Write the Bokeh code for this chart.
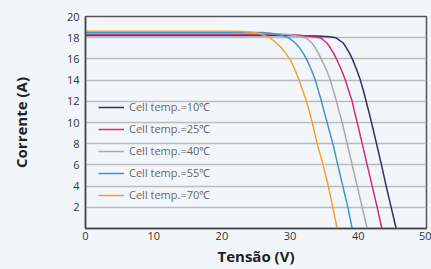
from bokeh.plotting import figure
from bokeh.models import Range1d, FixedTicker, Legend, LegendItem
from bokeh.embed import file_html
from bokeh.resources import INLINE

# Data (voltage V, current A)
v_10 = [0, 30, 34, 35.8, 36.7, 37.8, 38.3, 38.75, 39.12, 39.75, 40.3, 40.75, 41.15,
        41.55, 41.94, 42.67, 43.4, 44.09, 44.82, 45.55]
i_10 = [18.2, 18.2, 18.17, 18.1, 18.0, 17.5, 17.0, 16.5, 16.0, 15.0, 14.0, 13.0, 12.0,
        11.0, 10.0, 8.0, 6.0, 4.0, 2.0, 0]

v_25 = [0, 28, 30, 31.8, 33.3, 34.46, 35.4, 35.95, 36.4, 36.8, 37.5, 38.1, 38.6, 39.1,
        39.45, 39.84, 40.57, 41.3, 42.04, 42.77, 43.45]
i_25 = [18.3, 18.3, 18.28, 18.2, 18.1, 18.0, 17.5, 17.0, 16.5, 16.0, 15.0, 14.0, 13.0,
        12.0, 11.0, 10.0, 8.0, 6.0, 4.0, 2.0, 0]

v_40 = [0, 26, 28, 29.6, 31, 32.26, 33.2, 33.75, 34.18, 34.55, 35.3, 35.9, 36.35, 36.8,
        37.2, 37.64, 38.37, 39.1, 39.84, 40.57, 41.3]
i_40 = [18.4, 18.4, 18.38, 18.3, 18.15, 18.0, 17.5, 17.0, 16.5, 16.0, 15.0, 14.0, 13.0,
        12.0, 11.0, 10.0, 8.0, 6.0, 4.0, 2.0, 0]

v_55 = [0, 24, 26, 27.3, 28.5, 29.8, 30.75, 31.45, 31.95, 32.4, 33.1, 33.7, 34.15, 34.6,
        35.0, 35.43, 36.27, 37.0, 37.73, 38.47, 39.1]
i_55 = [18.5, 18.5, 18.48, 18.4, 18.25, 18.0, 17.5, 17.0, 16.5, 16.0, 15.0, 14.0, 13.0,
        12.0, 11.0, 10.0, 8.0, 6.0, 4.0, 2.0, 0]

v_70 = [0, 21, 23, 24.5, 25.5, 26.3, 27.0, 28.0, 28.8, 29.4, 29.96, 30.7, 31.3, 31.87,
        32.4, 32.84, 33.24, 33.97, 34.85, 35.6, 36.27, 36.9]
i_70 = [18.6, 18.6, 18.58, 18.52, 18.4, 18.2, 18.0, 17.5, 17.0, 16.5, 16.0, 15.0, 14.0,
        13.0, 12.0, 11.0, 10.0, 8.0, 6.0, 4.0, 2.0, 0]

labels = ["Cell temp.=10℃", "Cell temp.=25℃", "Cell temp.=40℃",
          "Cell temp.=55℃", "Cell temp.=70℃"]
colors = ["#2c2f6e", "#d42a7c", "#a9a9a9", "#3b97d1", "#f0a232"]
x_ticks = [0, 10, 20, 30, 40, 50]
y_ticks = [2, 4, 6, 8, 10, 12, 14, 16, 18, 20]

BG = "#f2f6fa"
FONT = "Open Sans"

p = figure(width=431, height=269, output_backend="svg", toolbar_location=None,
           x_range=Range1d(0, 50), y_range=Range1d(0, 20),
           min_border_left=85, min_border_right=5, min_border_top=16,
           min_border_bottom=41)
p.background_fill_color = BG
p.border_fill_color = BG
p.outline_line_color = "#555555"
p.outline_line_width = 1.5

series = [(v_10, i_10), (v_25, i_25), (v_40, i_40), (v_55, i_55), (v_70, i_70)]
renderers = []
for (vx, iy), c in zip(series, colors):
    renderers.append(p.line(vx, iy, line_color=c, line_width=1.5, line_join="round"))

legend = Legend(items=[LegendItem(label=l, renderers=[r]) for l, r in zip(labels, renderers)],
                location=(13, 26), padding=0, margin=0, spacing=7,
                glyph_width=26, glyph_height=14, label_height=14, label_standoff=5,
                background_fill_alpha=0, border_line_alpha=0,
                label_text_font=FONT, label_text_font_size="11px",
                label_text_color="#666666")
p.add_layout(legend)

p.xgrid.grid_line_color = None
p.ygrid.grid_line_color = "#bcbcbc"
p.ygrid.grid_line_width = 1.5
p.ygrid.ticker = FixedTicker(ticks=y_ticks)

p.xaxis.ticker = FixedTicker(ticks=x_ticks)
p.yaxis.ticker = FixedTicker(ticks=y_ticks)
for ax in (p.xaxis[0], p.yaxis[0]):
    ax.major_tick_in = 0
    ax.major_tick_out = 0
    ax.minor_tick_in = 0
    ax.minor_tick_out = 0
    ax.axis_line_color = "#444444"
    ax.axis_line_width = 1.5
    ax.major_label_text_font = FONT
    ax.major_label_text_font_size = "11px"
    ax.major_label_text_color = "#333333"
    ax.axis_label_text_font = FONT
    ax.axis_label_text_font_size = "15px"
    ax.axis_label_text_font_style = "bold"
    ax.axis_label_text_color = "#222222"

p.xaxis.axis_label = "Tensão (V)"
p.yaxis.axis_label = "Corrente (A)"
p.xaxis.major_label_standoff = 3
p.xaxis.axis_label_standoff = 3
p.yaxis.major_label_standoff = 6
p.yaxis.axis_label_standoff = 33

html = file_html(p, INLINE)
html = html.replace("<head>", "<head><style>body{background:%s;}</style>" % BG, 1)
open("out.html", "w").write(html)
